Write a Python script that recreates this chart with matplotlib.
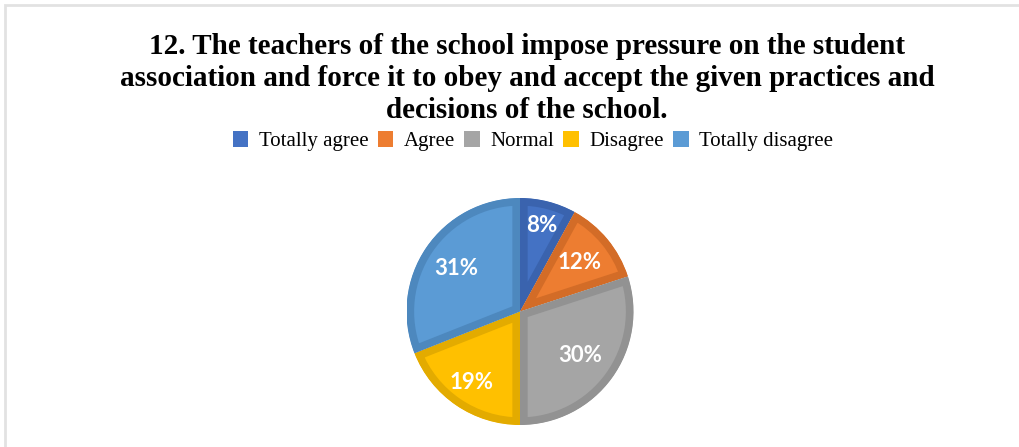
import numpy as np
import matplotlib.pyplot as plt
from matplotlib.patches import Patch, Rectangle

# Answers to item 12 of the survey
categories = ["Totally agree", "Agree", "Normal", "Disagree", "Totally disagree"]
shares = [8, 12, 30, 19, 31]
colors = ["#4472C4", "#ED7D31", "#A5A5A5", "#FFC000", "#5B9BD5"]
rims = ["#3A63AE", "#D36C27", "#929292", "#E3AB00", "#4D88BE"]

title = ("12. The teachers of the school impose pressure on the student\n"
         "association and force it to obey and accept the given practices and\n"
         "decisions of the school.")

W, H = 1020, 447
fig = plt.figure(figsize=(W / 100, H / 100), dpi=100)

# thin grey frame along the top and left
fig.patches.append(Rectangle((5 / W, -0.1), 1.2, 1 - 5 / H + 0.1, transform=fig.transFigure,
                             fill=False, edgecolor="#e2e2e2", linewidth=2))

fig.text(527 / W, 1 - 33 / H, title, ha="center", va="top", fontsize=21,
         fontweight="bold", family="Liberation Serif", linespacing=1.24)

handles = [Patch(facecolor=c, edgecolor="none") for c in colors]
fig.legend(handles, categories, loc="center", bbox_to_anchor=(533 / W, 1 - 141 / H), ncol=5,
           frameon=False, prop={"family": "Liberation Serif", "size": 15},
           handlelength=0.75, handleheight=0.8, handletextpad=0.5, columnspacing=0.45)

cx, cy, r = 520, 311.5, 113.5
ax = fig.add_axes([(cx - r) / W, (H - cy - r) / H, 2 * r / W, 2 * r / H])
wedges, _, autotexts = ax.pie(shares, colors=colors, startangle=90, counterclock=False,
                              autopct="%d%%", pctdistance=0.72, radius=1,
                              textprops={"color": "white", "fontsize": 16, "fontweight": "bold",
                                         "family": "Lato"})
# bevelled look: darker rim stroked inside each slice
for w, rc in zip(wedges, rims):
    w.set_edgecolor(rc)
    w.set_linewidth(11)
    w.set_clip_path(w)
    w.set_clip_on(True)

# nudge each percentage along its slice bisector
label_r = [0.78, 0.68, 0.66, 0.76, 0.68]
for w, t, d in zip(wedges, autotexts, label_r):
    a = np.deg2rad((w.theta1 + w.theta2) / 2)
    t.set_position((d * np.cos(a), d * np.sin(a)))

ax.set_xlim(-1, 1)
ax.set_ylim(-1, 1)
ax.set_aspect("auto")
ax.axis("off")

fig.savefig("out.png", dpi=100)
